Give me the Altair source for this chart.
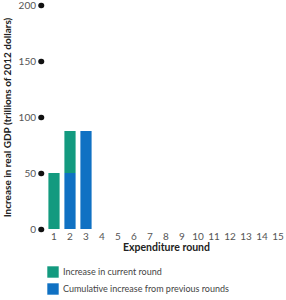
import altair as alt
import pandas as pd

rounds = [str(i) for i in range(1, 16)]
bar_rounds = ["1", "2", "2", "3"]
series = ["Increase in current round", "Cumulative increase from previous rounds",
          "Increase in current round", "Cumulative increase from previous rounds"]
values = [50, 50, 37.5, 87.5]
order_vals = [1, 0, 1, 0]

df = pd.DataFrame({"round": bar_rounds, "series": series, "value": values, "ord": order_vals})

font = "Lato"
chart = alt.Chart(df).mark_bar().encode(
    x=alt.X("round:N", sort=rounds,
            scale=alt.Scale(domain=rounds, paddingInner=0.3, paddingOuter=0.15),
            axis=alt.Axis(title="Expenditure round", labelAngle=0, domain=False, ticks=False,
                          labelFont=font, labelFontSize=10, labelColor="#555",
                          labelPadding=2, titleFont=font, titleFontSize=10.5,
                          titleFontWeight="bold", titleColor="#222", titlePadding=1)),
    y=alt.Y("value:Q", stack="zero",
            scale=alt.Scale(domain=[0, 200]),
            axis=alt.Axis(title="Increase in real GDP (trillions of 2012 dollars)",
                          values=[0, 50, 100, 150, 200], grid=False, domain=False,
                          tickSize=0.5, tickWidth=5.5, tickCap="round", tickColor="#111",
                          offset=5, labelFont=font, labelFontSize=10, labelColor="#555",
                          labelPadding=5, titleFont=font, titleFontSize=10,
                          titleFontWeight="bold", titleColor="#222", titlePadding=6)),
    color=alt.Color("series:N",
                    scale=alt.Scale(domain=["Increase in current round",
                                            "Cumulative increase from previous rounds"],
                                    range=["#139a7f", "#1071c3"]),
                    legend=alt.Legend(title=None, orient="none", legendX=1, legendY=261,
                                      direction="vertical", symbolType="square",
                                      symbolSize=130, symbolStrokeWidth=0,
                                      labelFont=font, labelFontSize=9, labelColor="#444",
                                      labelLimit=300, rowPadding=5, labelOffset=4)),
    order=alt.Order("ord:Q"),
).properties(
    width=240, height=224,
    autosize=alt.AutoSizeParams(type="none"),
    padding={"left": 46, "top": 5, "right": 0, "bottom": 71},
).configure_view(stroke=None)

chart.save("out.html", embed_options={"renderer": "svg", "actions": False})
